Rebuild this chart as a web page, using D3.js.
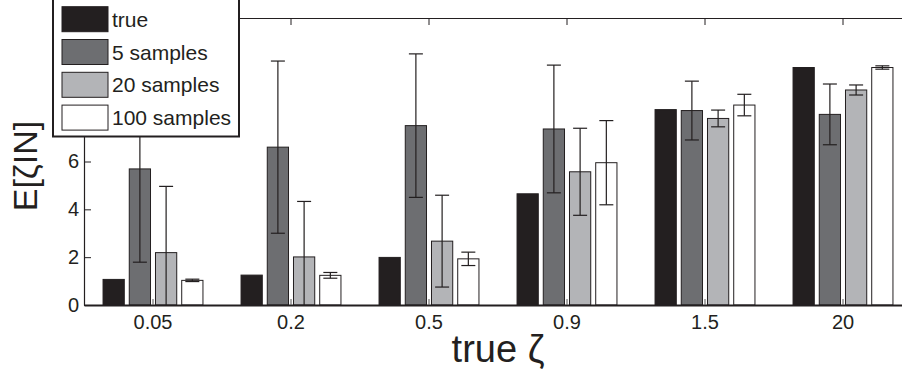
<!DOCTYPE html>
<html>
<head>
<meta charset="utf-8">
<script src="https://cdn.jsdelivr.net/npm/d3@7"></script>
<style>
  body { margin: 0; background: #fff; }
  svg { display: block; font-family: "Liberation Sans", Arial, sans-serif; }
</style>
</head>
<body>
<div id="chart"></div>
<script>
// Chart data
const categories = ["0.05", "0.2", "0.5", "0.9", "1.5", "20"];
const seriesNames = ["true", "5 samples", "20 samples", "100 samples"];
const seriesColors = ["#231f20", "#6d6e71", "#b3b4b7", "#ffffff"];

// bar heights per series, one value per category
const trueValues = [1.07, 1.25, 1.99, 4.65, 8.17, 9.93];
const samples5 = [5.69, 6.60, 7.50, 7.36, 8.13, 7.97];
const samples20 = [2.19, 2.01, 2.67, 5.57, 7.80, 8.99];
const samples100 = [1.03, 1.24, 1.93, 5.95, 8.36, 9.93];

// error bar half widths
const err5 = [3.90, 3.60, 3.00, 2.67, 1.23, 1.27];
const err20 = [2.77, 2.32, 1.92, 1.82, 0.35, 0.21];
const err100 = [0.05, 0.12, 0.28, 1.76, 0.45, 0.07];

const yTicks = [0, 2, 4, 6, 8, 10];

const values = [trueValues, samples5, samples20, samples100];
const errors = [null, err5, err20, err100];

// Layout
const width = 902, height = 377;
const margin = { left: 84, top: 18, bottom: 72 };
const plotRight = 912; // right axis falls just outside the window

const svg = d3.select("#chart").append("svg")
    .attr("width", width)
    .attr("height", height);

const x = d3.scaleBand()
    .domain(categories)
    .range([margin.left, plotRight]);

const y = d3.scaleLinear()
    .domain([0, 12])
    .range([height - margin.bottom, margin.top]);

// offsets of the four bars within a group
const xs = d3.scaleBand()
    .domain(seriesNames)
    .range([-x.step() * 0.362, x.step() * 0.362])
    .paddingInner(0.19);

svg.append("clipPath").attr("id", "plotclip")
    .append("rect")
    .attr("x", margin.left)
    .attr("y", margin.top)
    .attr("width", plotRight - margin.left)
    .attr("height", y(0) - margin.top);

// Bars
const groups = svg.append("g").selectAll("g")
    .data(seriesNames)
    .join("g");

groups.selectAll("rect")
    .data((s, si) => categories.map((c, ci) => ({ c, si, v: values[si][ci] })))
    .join("rect")
    .attr("x", d => x(d.c) + x.bandwidth() / 2 + xs(seriesNames[d.si]))
    .attr("y", d => y(d.v))
    .attr("width", xs.bandwidth())
    .attr("height", d => y(0) - y(d.v))
    .attr("fill", d => seriesColors[d.si])
    .attr("stroke", "#231f20")
    .attr("stroke-width", 1);

// Error bars
const errData = [];
seriesNames.forEach((s, si) => {
    if (!errors[si]) return;
    categories.forEach((c, ci) => {
        errData.push({
            cx: x(c) + x.bandwidth() / 2 + xs(s) + xs.bandwidth() / 2,
            lo: values[si][ci] - errors[si][ci],
            hi: values[si][ci] + errors[si][ci]
        });
    });
});

const eb = svg.append("g")
    .attr("clip-path", "url(#plotclip)")
    .attr("stroke", "#231f20")
    .attr("stroke-width", 1.2);

eb.selectAll("line.stem")
    .data(errData)
    .join("line")
    .attr("class", "stem")
    .attr("x1", d => d.cx).attr("x2", d => d.cx)
    .attr("y1", d => y(d.lo)).attr("y2", d => y(d.hi));

eb.selectAll("line.capHi")
    .data(errData)
    .join("line")
    .attr("class", "capHi")
    .attr("x1", d => d.cx - 7).attr("x2", d => d.cx + 7)
    .attr("y1", d => y(d.hi)).attr("y2", d => y(d.hi));

eb.selectAll("line.capLo")
    .data(errData.filter(d => d.lo > 0))
    .join("line")
    .attr("class", "capLo")
    .attr("x1", d => d.cx - 7).attr("x2", d => d.cx + 7)
    .attr("y1", d => y(d.lo)).attr("y2", d => y(d.lo));

// Axes (MATLAB style: ticks inside, box on)
const gxb = svg.append("g")
    .attr("transform", `translate(0,${y(0)})`)
    .call(d3.axisBottom(x).tickSizeInner(-6).tickSizeOuter(0).tickPadding(10));
gxb.select(".domain").attr("stroke", "#231f20").attr("stroke-width", 2);
gxb.selectAll(".tick line").attr("stroke", "#555");
gxb.selectAll("text").attr("font-size", 20).attr("fill", "#231f20")
    .attr("font-family", "Liberation Sans, Arial, sans-serif");

const gxt = svg.append("g")
    .attr("transform", `translate(0,${margin.top})`)
    .call(d3.axisTop(x).tickSizeInner(-7).tickSizeOuter(0).tickFormat(""));
gxt.select(".domain").attr("stroke", "#231f20").attr("stroke-width", 1.2);
gxt.selectAll(".tick line").attr("stroke", "#231f20");

const gyl = svg.append("g")
    .attr("transform", `translate(${margin.left},0)`)
    .call(d3.axisLeft(y).tickValues(yTicks).tickSizeInner(-7).tickSizeOuter(0).tickPadding(5));
gyl.select(".domain").attr("stroke", "#231f20").attr("stroke-width", 1.2);
gyl.selectAll(".tick line").attr("stroke", "#231f20");
gyl.selectAll("text").attr("font-size", 20).attr("fill", "#231f20")
    .attr("font-family", "Liberation Sans, Arial, sans-serif");

const gyr = svg.append("g")
    .attr("transform", `translate(${plotRight},0)`)
    .call(d3.axisRight(y).tickValues(yTicks).tickSizeInner(-7).tickSizeOuter(0).tickFormat(""));
gyr.select(".domain").attr("stroke", "#231f20");

// Axis titles
svg.append("text")
    .attr("x", (margin.left + plotRight) / 2)
    .attr("y", 362)
    .attr("text-anchor", "middle")
    .attr("font-size", 38)
    .attr("fill", "#231f20")
    .text("true ζ");

svg.append("text")
    .attr("transform", "translate(37,166) rotate(-90)")
    .attr("text-anchor", "middle")
    .attr("font-size", 34)
    .attr("fill", "#231f20")
    .text("E[ζIN]");

// Legend
const legend = svg.append("g").attr("transform", "translate(53,0)");
legend.append("rect")
    .attr("x", 0).attr("y", -2)
    .attr("width", 186).attr("height", 138.5)
    .attr("fill", "#fff")
    .attr("stroke", "#231f20")
    .attr("stroke-width", 2);

const items = legend.selectAll("g.item")
    .data(seriesNames)
    .join("g")
    .attr("class", "item")
    .attr("transform", (d, i) => `translate(9,${6.7 + i * 32.8})`);

items.append("rect")
    .attr("width", 46).attr("height", 25)
    .attr("fill", (d, i) => seriesColors[i])
    .attr("stroke", "#231f20")
    .attr("stroke-width", 1);

items.append("text")
    .attr("x", 50)
    .attr("y", 20)
    .attr("font-size", 21)
    .attr("fill", "#231f20")
    .text(d => d);
</script>
</body>
</html>
